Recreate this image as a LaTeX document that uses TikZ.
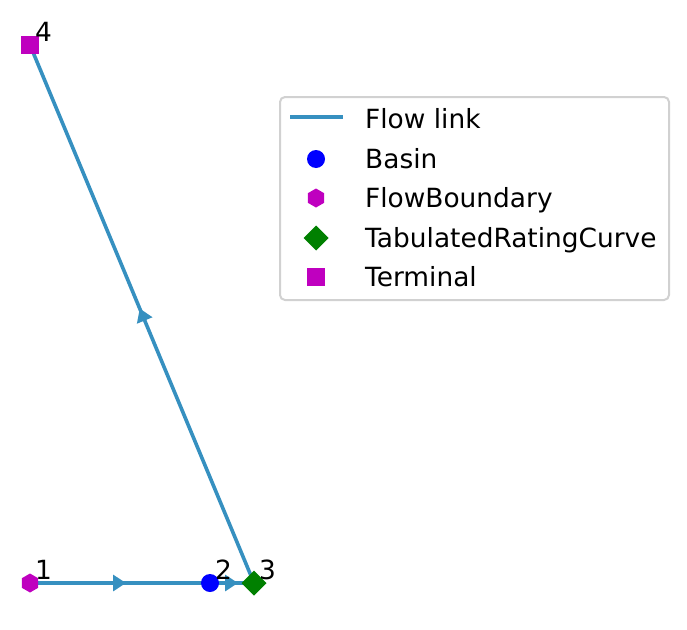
\documentclass[tikz,border=0pt]{standalone}
\usepackage{fontspec}
\setmainfont{DejaVu Sans}
\usetikzlibrary{shapes.geometric,arrows.meta,decorations.markings,backgrounds}
\definecolor{linkblue}{HTML}{3690C0}
\definecolor{bndmag}{HTML}{BF00BF}
\definecolor{trcgreen}{HTML}{008000}

\begin{document}
\begin{tikzpicture}[x=1pt,y=-1pt,font=\fontsize{26.4}{30}\selectfont,
  mk/.style={inner sep=0pt,outer sep=0pt},
  basin/.style={mk,circle,fill=blue,minimum size=18pt},
  boundary/.style={mk,regular polygon,regular polygon sides=6,shape border rotate=30,fill=bndmag,minimum size=19pt},
  trc/.style={mk,diamond,fill=trcgreen,minimum width=25pt,minimum height=25pt},
  terminal/.style={mk,rectangle,fill=bndmag,minimum size=18pt},
  num/.style={anchor=base west,inner sep=0pt},
  legtext/.style={anchor=base west,inner sep=0pt},
  flowline/.style={draw=linkblue,line width=3.6pt},
  link/.style={flowline,postaction={decorate},decoration={markings,
    mark=at position 0.5 with {\arrow[linkblue,xshift=6pt]{Triangle[length=13pt,width=16pt]}}}}]
  \useasboundingbox (0,0) rectangle (687,629);
  % model nodes
  \node[boundary] (n1) at (30,583) {};
  \node[basin]    (n2) at (210,583) {};
  \node[trc]      (n3) at (254,583) {};
  \node[terminal] (n4) at (30,45) {};
  \foreach \i in {1,...,4}
    \node[num] (t\i) at ([xshift=5pt,yshift=4pt]n\i.center) {\i};
  % flow links
  \begin{scope}[on background layer]
    \draw[link] (n1.center) -- (n2.center);
    \draw[link] (n2.center) -- (n3.center);
    \draw[link] (n3.center) -- (n4.center);
  \end{scope}
  % legend
  \draw[draw=black!18,line width=2pt,rounded corners=5pt] (280,97) rectangle (669,300);
  \coordinate (ls) at (290,117);
  \coordinate (le) at (343,117);
  \draw[flowline] (ls) -- (le);
  \node[legtext] (lt0) at (365,128) {Flow link};
  \foreach \sty/\txt/\y [count=\i] in {basin/Basin/159,boundary/FlowBoundary/198,trc/TabulatedRatingCurve/238,terminal/Terminal/277} {
    \node[\sty] (lm\i) at (316,\y) {};
    \node[legtext] (lt\i) at (365,\y+9) {\txt};
  }
\end{tikzpicture}
\end{document}
